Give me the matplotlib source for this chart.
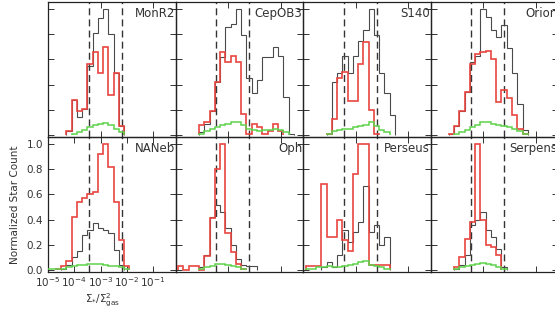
import numpy as np
import matplotlib
matplotlib.use('Agg')
import matplotlib.pyplot as plt

# histogram bins: 0.2 dex wide in log(Sigma_* / Sigma_gas^2)
bin_edges = 10 ** (-5.1 + 0.2 * np.arange(27))
dashed_lo = 3.5e-4
dashed_hi = 6.3e-3

regions = ['MonR2', 'CepOB3', 'S140', 'Orion', 'NANeb', 'Oph', 'Perseus', 'Serpens']

monr2_black = [0, 0, 0, 0, .03, .28, .14, .21, .55, .81, .93, 1.0, .80, .49, .07, 0, 0, 0, 0, 0, 0, 0, 0, 0, 0, 0]
monr2_red = [0, 0, 0, 0, .03, .28, .19, .21, .56, .66, .49, .70, .32, .49, .07, 0, 0, 0, 0, 0, 0, 0, 0, 0, 0, 0]
monr2_green = [0, 0, 0, 0, 0, .01, .02, .04, .06, .08, .09, .095, .08, .05, .02, 0, 0, 0, 0, 0, 0, 0, 0, 0, 0, 0]

cepob3_black = [0, 0, 0, 0, 0, .02, .09, .19, .42, .62, .86, .88, 1.0, .79, .45, .33, .44, .62, .62, .70, .63, .30, .01, 0, 0, 0]
cepob3_red = [0, 0, 0, 0, 0, .08, .10, .19, .42, .66, .58, .63, .58, .17, .01, .09, .06, .01, .03, .09, .03, 0, 0, 0, 0, 0]
cepob3_green = [0, 0, 0, 0, 0, .01, .03, .05, .06, .08, .09, .10, .10, .08, .05, .04, .03, .04, .04, .05, .04, .02, 0, 0, 0, 0]

s140_black = [0, 0, 0, 0, 0, .01, .42, .49, .63, .49, .63, .75, .83, 1.0, .79, .49, .33, .16, 0, 0, 0, 0, 0, 0, 0, 0]
s140_red = [0, 0, 0, 0, 0, .01, .13, .45, .50, .27, .27, .56, .74, .20, .01, 0, 0, 0, 0, 0, 0, 0, 0, 0, 0, 0]
s140_green = [0, 0, 0, 0, 0, .01, .03, .04, .05, .05, .06, .07, .08, .10, .07, .04, .02, 0, 0, 0, 0, 0, 0, 0, 0, 0]

orion_black = [0, 0, 0, 0, .01, .07, .19, .34, .58, .63, 1.0, .94, .83, .78, .87, .69, .49, .25, .04, 0, 0, 0, 0, 0, 0, 0]
orion_red = [0, 0, 0, 0, .01, .07, .19, .34, .56, .64, .66, .67, .60, .26, .36, .29, .16, .05, .01, 0, 0, 0, 0, 0, 0, 0]
orion_green = [0, 0, 0, 0, 0, .01, .02, .04, .06, .08, .10, .10, .09, .08, .07, .06, .05, .03, .01, 0, 0, 0, 0, 0, 0, 0]

naneb_black = [0, 0, 0, .01, .04, .10, .15, .28, .32, .37, .33, .32, .29, .16, .04, 0, 0, 0, 0, 0, 0, 0, 0, 0, 0, 0]
naneb_red = [0, 0, .01, .03, .07, .42, .54, .57, .60, .62, .92, 1.0, .82, .54, .24, .03, 0, 0, 0, 0, 0, 0, 0, 0, 0, 0]
naneb_green = [.01, .01, .01, .01, .02, .03, .04, .04, .05, .05, .045, .04, .035, .03, .02, .01, 0, 0, 0, 0, 0, 0, 0, 0, 0, 0]

oph_black = [0, 0, 0, 0, 0, .02, .12, .42, .52, .46, .33, .20, .09, .04, .03, .03, 0, 0, 0, 0, 0, 0, 0, 0, 0, 0]
oph_red = [0, .03, 0, .03, .03, 0, .11, .41, .80, 1.0, .29, .14, .05, .01, 0, 0, 0, 0, 0, 0, 0, 0, 0, 0, 0, 0]
oph_green = [0, 0, 0, 0, 0, .01, .02, .03, .05, .05, .04, .03, .02, .01, 0, 0, 0, 0, 0, 0, 0, 0, 0, 0, 0, 0]

perseus_black = [0, 0, 0, 0, .02, .06, .02, .12, .32, .22, .30, .38, .67, .30, .36, .20, .26, 0, 0, 0, 0, 0, 0, 0, 0, 0]
perseus_red = [0, .03, .03, .03, .68, .26, .26, .40, .24, .15, .76, 1.0, 1.0, .04, .04, .04, .04, 0, 0, 0, 0, 0, 0, 0, 0, 0]
perseus_green = [0, .01, .01, .02, .02, .03, .02, .02, .03, .04, .05, .06, .07, .04, .03, .02, .01, 0, 0, 0, 0, 0, 0, 0, 0, 0]

serpens_black = [0, 0, 0, 0, 0, .01, .04, .12, .36, .40, .46, .32, .26, .17, .02, 0, 0, 0, 0, 0, 0, 0, 0, 0, 0, 0]
serpens_red = [0, 0, 0, 0, 0, .02, .10, .25, .38, 1.0, .40, .20, .18, .12, 0, 0, 0, 0, 0, 0, 0, 0, 0, 0, 0, 0]
serpens_green = [0, 0, 0, 0, 0, .01, .02, .03, .04, .05, .055, .05, .04, .02, .01, 0, 0, 0, 0, 0, 0, 0, 0, 0, 0, 0]

black_sets = [monr2_black, cepob3_black, s140_black, orion_black,
              naneb_black, oph_black, perseus_black, serpens_black]
red_sets = [monr2_red, cepob3_red, s140_red, orion_red,
            naneb_red, oph_red, perseus_red, serpens_red]
green_sets = [monr2_green, cepob3_green, s140_green, orion_green,
              naneb_green, oph_green, perseus_green, serpens_green]

BLACK = '#4a4a4a'
RED = '#e8453f'
GREEN = '#5fd24c'
TXT = '#333333'


def draw_hist(ax, vals, color, lw, z):
    vals = np.asarray(vals, dtype=float)
    nz = np.nonzero(vals)[0]
    if len(nz) == 0:
        return
    a, b = nz[0], nz[-1] + 1
    ax.stairs(vals[a:b], bin_edges[a:b + 1], baseline=0, color=color,
              linewidth=lw, zorder=z)


W, H = 555, 312
fig = plt.figure(figsize=(W / 100, H / 100), dpi=100)

col_left = [48, 175.5, 303, 430.5]
row_top = [2, 137]
pw, ph = 127.5, 135

for k, name in enumerate(regions):
    r, c = divmod(k, 4)
    ax = fig.add_axes([col_left[c] / W, 1 - (row_top[r] + ph) / H, pw / W, ph / H])
    ax.patch.set_visible(False)
    ax.set_xscale('log')
    ax.set_xlim(1e-5, 10 ** -0.15)
    ax.set_ylim(-0.016, 1.056)

    draw_hist(ax, black_sets[k], BLACK, 0.8, 2)
    draw_hist(ax, red_sets[k], RED, 1.2, 3)
    draw_hist(ax, green_sets[k], GREEN, 1.1, 4)

    for xv in (dashed_lo, dashed_hi):
        ax.axvline(xv, color='#333333', linewidth=1.0, linestyle=(0, (5, 3)), zorder=1)

    ax.text(0.997, 0.965, name, transform=ax.transAxes, ha='right', va='top',
            fontsize=8.5, color=TXT, zorder=10, clip_on=False)

    ax.set_yticks([0.0, 0.2, 0.4, 0.6, 0.8, 1.0])
    ax.yaxis.set_minor_locator(matplotlib.ticker.NullLocator())
    ax.tick_params(which='both', direction='in', top=True, right=True,
                   color='#333333', width=0.7, labelsize=7.5, labelcolor=TXT)
    ax.tick_params(which='major', length=4)
    ax.tick_params(which='minor', length=2)
    for s in ax.spines.values():
        s.set_linewidth(0.9)
        s.set_color('#222222')

    if k == 4:
        ax.set_xticks([1e-5, 1e-4, 1e-3, 1e-2, 1e-1])
        ax.yaxis.set_major_formatter(matplotlib.ticker.FormatStrFormatter('%.1f'))
        ax.tick_params(axis='y', which='major', pad=3.5)
        ax.tick_params(axis='x', which='major', pad=2.5)
        ax.set_ylabel('Normalized Star Count', fontsize=7.5, color=TXT, labelpad=5)
    else:
        ax.tick_params(labelbottom=False, labelleft=False)

fig.text(103 / W, 1 - 300.5 / H, r'$\Sigma_{*}/\Sigma^{2}_{\rm gas}$',
         ha='center', va='center', fontsize=7.5, color=TXT)

fig.savefig('out.png', dpi=100)
